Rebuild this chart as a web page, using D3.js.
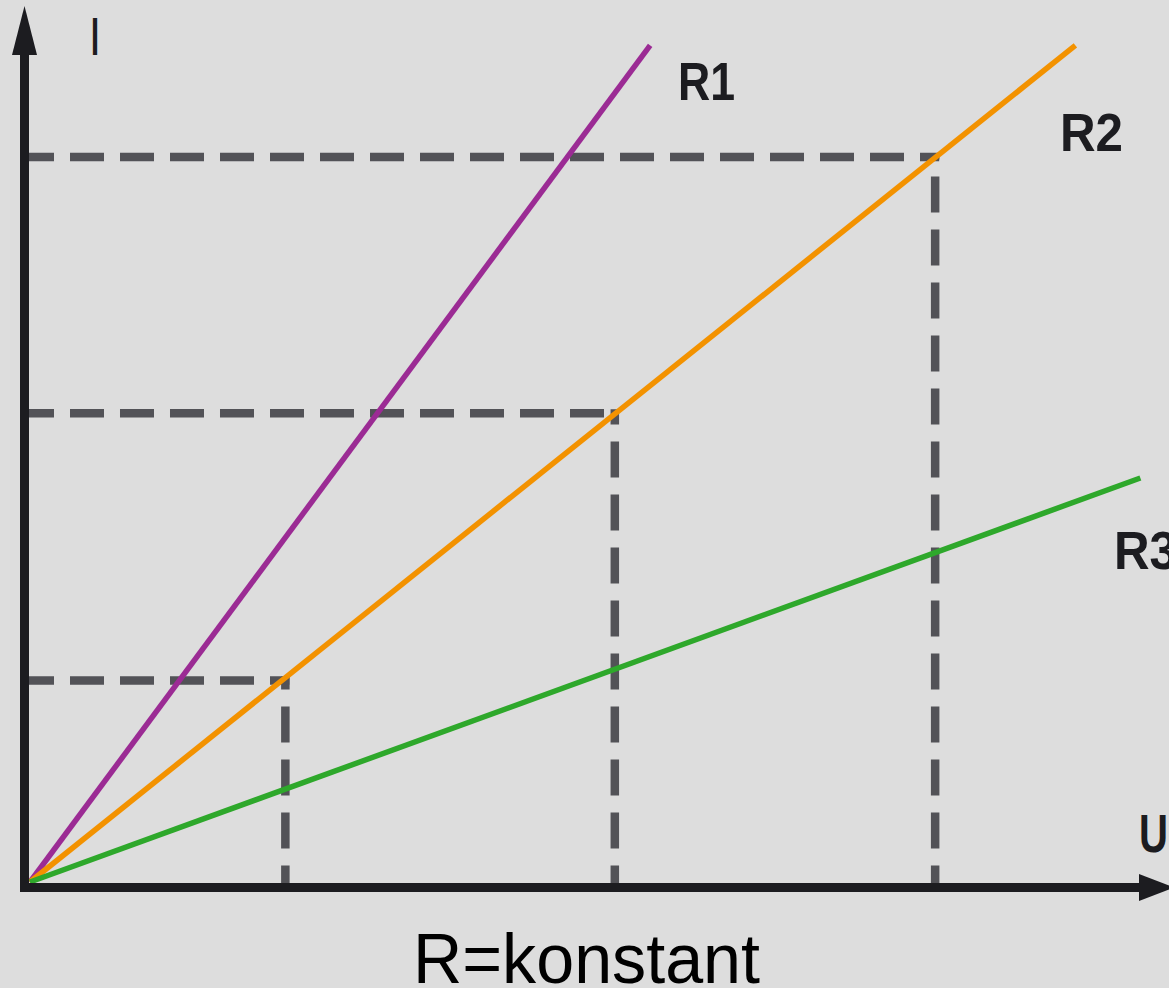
<!DOCTYPE html>
<html>
<head>
<meta charset="utf-8">
<script src="https://d3js.org/d3.v7.min.js"></script>
<style>
  html, body { margin: 0; padding: 0; background: #dddddd; }
  svg { display: block; }
</style>
</head>
<body>
<svg id="chart" width="1169" height="988"></svg>
<script>
// ── Daten: Kennlinien I(U) bei R = konstant ───────────
const SERIES  = ['R1', 'R2', 'R3'];
const U_END   = [5.44, 9.17, 9.74];
const I_END   = [9.96, 9.96, 4.81];
const COLORS  = ['#9b2b94', '#f39200', '#2ea82b'];

// Hilfslinien-Punkte auf R2
const GUIDE_U = [2.24, 5.13, 7.94];
const GUIDE_I = [2.40, 5.58, 8.63];

const W = 1169, H = 988;
const AXIS = '#1c1c20', DASH = '#525257';

const svg = d3.select('#chart');

// ── Skalen ─────────────────────────────────────────────
const x = d3.scaleLinear().domain([0, 10]).range([30, 1170]);
const y = d3.scaleLinear().domain([0, 10]).range([882, 42]);

const x0 = x(0) - 5.5;   // Lage der y-Achse
const y0 = y(0) + 5.5;   // Lage der x-Achse

// ── Gestrichelte Hilfslinien ───────────────────────────
const guides = GUIDE_U.map((u, i) => ({ u, i: GUIDE_I[i] }));

svg.append('g').selectAll('line.h')
  .data(guides).join('line')
    .attr('x1', x0 - 4.5).attr('y1', d => y(d.i))
    .attr('x2', d => x(d.u) + 4).attr('y2', d => y(d.i))
    .attr('stroke', DASH).attr('stroke-width', 8.5)
    .attr('stroke-dasharray', '34,16');

svg.append('g').selectAll('line.v')
  .data(guides).join('line')
    .attr('x1', d => x(d.u)).attr('y1', y0 + 2)
    .attr('x2', d => x(d.u)).attr('y2', d => y(d.i) - 4)
    .attr('stroke', DASH).attr('stroke-width', 8.5)
    .attr('stroke-dasharray', '36,17')
    .attr('stroke-dashoffset', 12);

// ── Kennlinien ─────────────────────────────────────────
const lineGen = d3.line().x(d => x(d[0])).y(d => y(d[1]));
const series = SERIES.map((name, k) => ({
  name, color: COLORS[k], pts: [[0, 0], [U_END[k], I_END[k]]]
}));

svg.append('g').selectAll('path')
  .data(series).join('path')
    .attr('d', d => lineGen(d.pts))
    .attr('fill', 'none')
    .attr('stroke', d => d.color)
    .attr('stroke-width', 5.5);

// ── Achsen mit Pfeilen ─────────────────────────────────
svg.append('line')
  .attr('x1', x0).attr('y1', 50).attr('x2', x0).attr('y2', y0 + 4.5)
  .attr('stroke', AXIS).attr('stroke-width', 9);
svg.append('line')
  .attr('x1', x0 - 4.5).attr('y1', y0).attr('x2', 1145).attr('y2', y0)
  .attr('stroke', AXIS).attr('stroke-width', 9);

svg.append('path')
  .attr('d', `M${x0},6 L${x0 + 12.5},55 L${x0 - 12.5},55 Z`)
  .attr('fill', AXIS);
svg.append('path')
  .attr('d', `M1174,${y0} L1139,${y0 - 13.5} L1139,${y0 + 13.5} Z`)
  .attr('fill', AXIS);

// ── Beschriftung ───────────────────────────────────────
const labels = [
  { t: 'I',  x: 91,   y: 55,  w: 8 },
  { t: 'U',  x: 1139, y: 852, w: 29 },
  { t: 'R1', x: 678,  y: 100, w: 57 },
  { t: 'R2', x: 1060, y: 151, w: 63 },
  { t: 'R3', x: 1114, y: 569, w: 63 }
];

svg.append('g').selectAll('text')
  .data(labels).join('text')
    .attr('x', d => d.x).attr('y', d => d.y)
    .attr('textLength', d => d.w)
    .attr('lengthAdjust', 'spacingAndGlyphs')
    .attr('font-family', '"Liberation Sans", Arial, sans-serif')
    .attr('font-weight', 'bold')
    .attr('font-size', 54)
    .attr('fill', AXIS)
    .text(d => d.t);

svg.append('text')
  .attr('x', 413).attr('y', 983)
  .attr('textLength', 347)
  .attr('lengthAdjust', 'spacingAndGlyphs')
  .attr('font-family', '"Liberation Sans", Arial, sans-serif')
  .attr('font-size', 71)
  .attr('fill', '#000')
  .text('R=konstant');
</script>
</body>
</html>
